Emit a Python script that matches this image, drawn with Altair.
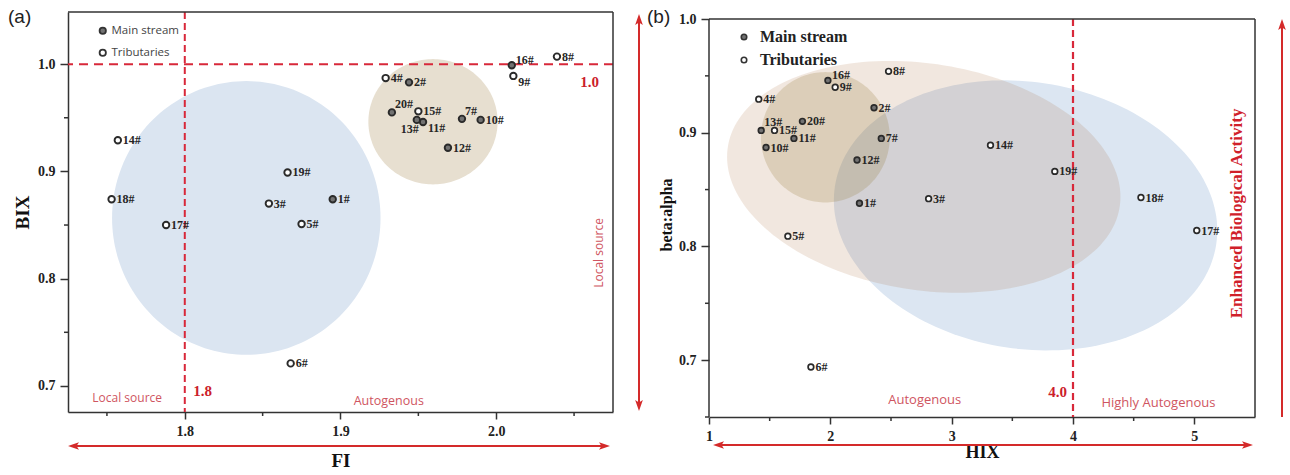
import altair as alt
import pandas as pd

# ---------------- data ----------------
sites = [f"{i}#" for i in range(1, 21)]
site_type = ["Main stream", "Main stream", "Tributaries", "Tributaries", "Tributaries",
             "Tributaries", "Main stream", "Tributaries", "Tributaries", "Main stream",
             "Main stream", "Main stream", "Main stream", "Tributaries", "Tributaries",
             "Main stream", "Tributaries", "Tributaries", "Tributaries", "Main stream"]
fi = [1.895, 1.944, 1.854, 1.929, 1.875, 1.868, 1.978, 2.039, 2.011, 1.990,
      1.953, 1.969, 1.949, 1.757, 1.950, 2.010, 1.788, 1.753, 1.866, 1.933]
bix = [0.874, 0.983, 0.870, 0.987, 0.851, 0.721, 0.949, 1.007, 0.989, 0.948,
       0.946, 0.922, 0.948, 0.929, 0.956, 0.999, 0.850, 0.874, 0.899, 0.955]
hix = [2.24, 2.36, 2.81, 1.41, 1.65, 1.84, 2.42, 2.48, 2.04, 1.47,
       1.70, 2.22, 1.43, 3.32, 1.54, 1.98, 5.02, 4.56, 3.85, 1.77]
beta_alpha = [0.838, 0.922, 0.842, 0.9295, 0.809, 0.694, 0.895, 0.954, 0.940, 0.887,
              0.895, 0.876, 0.902, 0.889, 0.902, 0.946, 0.814, 0.843, 0.866, 0.910]
# label placement codes (r = right, ur = upper right, us = slightly up, dr = lower right, dl = lower left)
label_pos_a = ["r", "r", "r", "r", "r", "r", "ur", "r", "dr", "r",
               "dr", "r", "dl", "r", "r", "us", "r", "r", "r", "ur"]
label_pos_b = ["r", "r", "r", "r", "r", "r", "r", "r", "r", "r",
               "r", "r", "ur", "r", "r", "us", "r", "r", "r", "r"]

# axis tick values
fi_major = [1.8, 1.9, 2.0]
fi_minor = [1.75, 1.85, 1.95, 2.05]
bix_major = [0.7, 0.8, 0.9, 1.0]
bix_minor = [0.75, 0.85, 0.95]
hix_major = [1, 2, 3, 4, 5]
hix_minor = [1.5, 2.5, 3.5, 4.5]
beta_major = [0.7, 0.8, 0.9, 1.0]
beta_minor = [0.65, 0.75, 0.85, 0.95]

# group ellipses: centre x, centre y, semi-axis x, semi-axis y, tilt (dy/dx)
ell_a_cx = [1.8395, 1.9594]
ell_a_cy = [0.8566, 0.9463]
ell_a_rx = [0.0862, 0.0415]
ell_a_ry = [0.1276, 0.0584]
ell_a_tilt = [0.0, 0.0]
ell_a_col = ["#dbe5f1", "#e7dfd0"]
ell_a_op = [1.0, 1.0]

# panel (b): blue drawn first, then the translucent brown groups over it
ell_b_cx = [3.609, 2.770, 1.959]
ell_b_cy = [0.8273, 0.8612, 0.8960]
ell_b_rx = [1.580, 1.621, 0.531]
ell_b_ry = [0.1180, 0.1004, 0.0573]
ell_b_tilt = [-0.0084, -0.01087, 0.0]
ell_b_col = ["#dce6f2", "#a25f2a", "#8d6f21"]
ell_b_op = [1.0, 0.15, 0.2]

types = ["Main stream", "Tributaries"]
type_fill = ["#727272", "#ffffff"]

df = pd.DataFrame({"site": sites, "type": site_type, "FI": fi, "BIX": bix,
                   "HIX": hix, "beta": beta_alpha,
                   "pos_a": label_pos_a, "pos_b": label_pos_b})

SERIF = "Liberation Serif"
SANS = "Open Sans"
RED_LINE = "#d8283a"
RED_NUM = "#cc1e2b"
RED_TXT = "#cf5561"
RED_ARROW = "#d42a2a"
FRAME = "#333333"
ARROW = "M1,0L-1,-0.7L-0.55,0L-1,0.7Z"
ONE = alt.Data(values=[{"k": 1}])

AX = dict(labelFont=SERIF, labelFontWeight="bold", labelFontSize=14, labelColor="#222",
          titleFont=SERIF, titleFontWeight="bold", titleColor="#111", grid=False,
          domainColor=FRAME, domainWidth=1.5, tickColor=FRAME, tickWidth=1.5,
          labelFlush=False, labelOverlap=False)


class Panel:
    """Holds the shared scales and axes of one panel so every layer uses the same ones."""

    def __init__(self, xs, ys, xaxis, yaxis):
        self.xs, self.ys, self.xaxis, self.yaxis = xs, ys, xaxis, yaxis

    def X(self, field):
        return alt.X(field, scale=self.xs, axis=self.xaxis)

    def Y(self, field):
        return alt.Y(field, scale=self.ys, axis=self.yaxis)

    def XD(self, v):
        return alt.XDatum(v, scale=self.xs, axis=self.xaxis)

    def YD(self, v):
        return alt.YDatum(v, scale=self.ys, axis=self.yaxis)

    def ellipse(self, cx, cy, rx, ry, tilt, color, op):
        return (alt.Chart(alt.sequence(0, 181, 2, as_="t"))
                .transform_calculate(ex=f"{cx} + {rx}*cos(datum.t*PI/180)")
                .transform_calculate(em=f"{cy} + ({tilt})*{rx}*cos(datum.t*PI/180)")
                .transform_calculate(ey=f"datum.em + {ry}*sin(datum.t*PI/180)")
                .transform_calculate(ey2=f"datum.em - {ry}*sin(datum.t*PI/180)")
                .mark_area(color=color, opacity=op, clip=True)
                .encode(x=self.X("ex:Q"), y=self.Y("ey:Q"), y2="ey2:Q"))

    def labels(self, xf, yf, posf, dxr):
        pos = {"r": (dxr, 0, "left"), "ur": (3, -8, "left"), "us": (4, -5, "left"),
               "dr": (5, 6, "left"), "dl": (2, 9, "right")}
        out = []
        for code, (dx, dy, al) in pos.items():
            out.append(alt.Chart(df).transform_filter(f"datum.{posf} == '{code}'")
                       .mark_text(align=al, baseline="middle", dx=dx, dy=dy, font=SERIF,
                                  fontWeight="bold", fontSize=12, color="#262626")
                       .encode(x=self.X(f"{xf}:Q"), y=self.Y(f"{yf}:Q"), text="site:N"))
        return out

    def text(self, txt, x, y, **kw):
        return alt.Chart(ONE).mark_text(text=txt, **kw).encode(x=self.XD(x), y=self.YD(y))

    def minor_x(self, vals, H, L=4):
        return alt.Chart(pd.DataFrame({"v": vals})).mark_rule(color=FRAME, strokeWidth=1.5).encode(
            x=self.X("v:Q"), y=alt.value(H), y2=alt.value(H + L))

    def minor_y(self, vals, L=4):
        return alt.Chart(pd.DataFrame({"v": vals})).mark_rule(color=FRAME, strokeWidth=1.5).encode(
            y=self.Y("v:Q"), x=alt.value(0), x2=alt.value(-L))


def pix_text(txt, x, y, **kw):
    return alt.Chart(ONE).mark_text(text=txt, **kw).encode(x=alt.value(x), y=alt.value(y))


def rule(color, width, dash=None, **enc):
    kw = dict(color=color, strokeWidth=width)
    if dash:
        kw["strokeDash"] = dash
    return alt.Chart(ONE).mark_rule(**kw).encode(**enc)


def head(x, y, angle):
    return alt.Chart(ONE).mark_point(shape=ARROW, size=121, angle=angle, filled=True,
                                     color=RED_ARROW, opacity=1, strokeWidth=0).encode(
        x=alt.value(x), y=alt.value(y))


# ---------------- panel (a) ----------------
WA, HA = 545, 400
A = Panel(alt.Scale(domain=[1.725, 2.075], nice=False, zero=False),
          alt.Scale(domain=[0.6757, 1.0486], nice=False, zero=False),
          alt.Axis(values=fi_major, format=".1f", tickSize=7, labelPadding=5, title="FI",
                   titleFontSize=19, titlePadding=13, **AX),
          alt.Axis(values=bix_major, format=".1f", tickSize=8, labelPadding=5, title="BIX",
                   titleFontSize=19, titlePadding=5, **AX))

legend_a = alt.Legend(orient="none", legendX=29, legendY=13, title=None, labelFont=SANS,
                      labelFontSize=11.5, labelColor="#444", symbolType="circle", symbolSize=40,
                      symbolStrokeColor="#333", symbolStrokeWidth=1.8, rowPadding=7,
                      labelOffset=3, padding=0)

pts_a = alt.Chart(df).mark_point(shape="circle", size=42, strokeWidth=1.9, stroke="#2a2a2a",
                                 opacity=1).encode(
    x=A.X("FI:Q"), y=A.Y("BIX:Q"),
    fill=alt.Fill("type:N", scale=alt.Scale(domain=types, range=type_fill), legend=legend_a))

ells_a = [A.ellipse(ell_a_cx[i], ell_a_cy[i], ell_a_rx[i], ell_a_ry[i], ell_a_tilt[i],
                    ell_a_col[i], ell_a_op[i]) for i in range(len(ell_a_cx))]

hline_a = rule(RED_LINE, 2, [9, 6], y=A.YD(1.0))
vline_a = rule(RED_LINE, 2, [7, 4], x=A.XD(1.8))

ann_a = [
    A.text("1.0", 2.054, 0.983, align="left", baseline="middle", font=SERIF, fontWeight="bold",
           fontSize=15, color=RED_NUM),
    A.text("1.8", 1.8055, 0.6953, align="left", baseline="middle", font=SERIF, fontWeight="bold",
           fontSize=15, color=RED_NUM),
    A.text("Local source", 1.763, 0.689, align="center", baseline="middle", font=SANS,
           fontSize=12, color=RED_TXT),
    A.text("Autogenous", 1.931, 0.686, align="center", baseline="middle", font=SANS,
           fontSize=12.5, color=RED_TXT),
    A.text("Local source", 2.066, 0.824, align="center", baseline="middle", font=SANS,
           fontSize=12, color=RED_TXT, angle=270),
]
frame_a = [rule(FRAME, 1.5, x=alt.value(0), x2=alt.value(WA), y=alt.value(0)),
           rule(FRAME, 1.5, x=alt.value(WA), y=alt.value(0), y2=alt.value(HA))]
arrows_a = [rule(RED_ARROW, 2, x=alt.value(5), x2=alt.value(537), y=alt.value(434)),
            head(5.5, 434, 180), head(536.5, 434, 0),
            rule(RED_ARROW, 2, x=alt.value(571), y=alt.value(6), y2=alt.value(394)),
            head(571, 7.5, 270), head(571, 393.5, 90)]
tag_a = pix_text("(a)", -60, 5, align="left", baseline="middle", font="Liberation Sans",
                 fontSize=19, color="#222")

panel_a = alt.layer(*ells_a, hline_a, vline_a, pts_a, *A.labels("FI", "BIX", "pos_a", 5),
                    A.minor_x(fi_minor, HA), A.minor_y(bix_minor), *frame_a,
                    *ann_a, *arrows_a, tag_a).properties(width=WA, height=HA)

# ---------------- panel (b) ----------------
WB, HB = 546, 405
B = Panel(alt.Scale(domain=[1.0, 5.5], nice=False, zero=False),
          alt.Scale(domain=[0.65, 1.00616], nice=False, zero=False),
          alt.Axis(values=hix_major, format="d", tickSize=7, labelPadding=5, title="HIX",
                   titleFontSize=18, titlePadding=0, **AX),
          alt.Axis(values=beta_major, format=".1f", tickSize=8, labelPadding=5,
                   title="beta:alpha", titleFontSize=16, titlePadding=4, domain=False, **AX))

legend_b = alt.Legend(orient="none", legendX=27, legendY=17, title=None, labelFont=SERIF,
                      labelFontWeight="bold", labelFontSize=16, labelColor="#222",
                      symbolType="circle", symbolSize=30, symbolStrokeColor="#333",
                      symbolStrokeWidth=1.6, rowPadding=7, labelOffset=8, padding=0)

pts_b = alt.Chart(df).mark_point(shape="circle", size=32, strokeWidth=1.7, stroke="#2a2a2a",
                                 opacity=1).encode(
    x=B.X("HIX:Q"), y=B.Y("beta:Q"),
    fill=alt.Fill("type:N", scale=alt.Scale(domain=types, range=type_fill), legend=legend_b))

ells_b = [B.ellipse(ell_b_cx[i], ell_b_cy[i], ell_b_rx[i], ell_b_ry[i], ell_b_tilt[i],
                    ell_b_col[i], ell_b_op[i]) for i in range(len(ell_b_cx))]

vline_b = rule(RED_LINE, 2.2, [7, 4], x=B.XD(4.0), y=B.YD(1.0), y2=alt.value(HB))

ann_b = [
    B.text("4.0", 3.951, 0.672, align="right", baseline="middle", font=SERIF, fontWeight="bold",
           fontSize=15, color=RED_NUM),
    B.text("Autogenous", 2.778, 0.6652, align="center", baseline="middle", font=SANS,
           fontSize=13, color=RED_TXT),
    B.text("Highly Autogenous", 4.704, 0.6626, align="center", baseline="middle", font=SANS,
           fontSize=13, color=RED_TXT),
    B.text("Enhanced Biological Activity", 5.354, 0.829, align="center", baseline="middle",
           font=SERIF, fontWeight="bold", fontSize=17, color="#d0202a", angle=270),
]
frame_b = [rule(FRAME, 1.5, x=alt.value(0), x2=alt.value(WB), y=B.YD(1.0)),
           rule(FRAME, 1.5, x=alt.value(0), y=B.YD(1.0), y2=alt.value(HB)),
           rule(FRAME, 1.5, x=alt.value(WB), y=B.YD(1.0), y2=alt.value(HB))]
arrows_b = [rule(RED_ARROW, 2, x=alt.value(9), x2=alt.value(539), y=alt.value(433)),
            head(9.5, 433, 180), head(538.5, 433, 0),
            rule(RED_ARROW, 2, x=alt.value(573), y=alt.value(12), y2=alt.value(405)),
            head(573, 12.5, 270)]
tag_b = pix_text("(b)", -62, 5, align="left", baseline="middle", font="Liberation Sans",
                 fontSize=19, color="#222")

panel_b = alt.layer(*ells_b, vline_b, pts_b, *B.labels("HIX", "beta", "pos_b", 4.5),
                    B.minor_x(hix_minor, HB), B.minor_y(beta_minor), *frame_b,
                    *ann_b, *arrows_b, tag_b).properties(width=WB, height=HB)

chart = (alt.hconcat(panel_a, panel_b, spacing=96, bounds="flush")
         .resolve_scale(fill="independent")
         .resolve_legend(fill="independent")
         .properties(padding={"left": 8, "top": 8, "right": 2, "bottom": 2}, background="white")
         .configure_view(stroke=None))

chart.save("out.html", embed_options={"renderer": "svg", "actions": False})
